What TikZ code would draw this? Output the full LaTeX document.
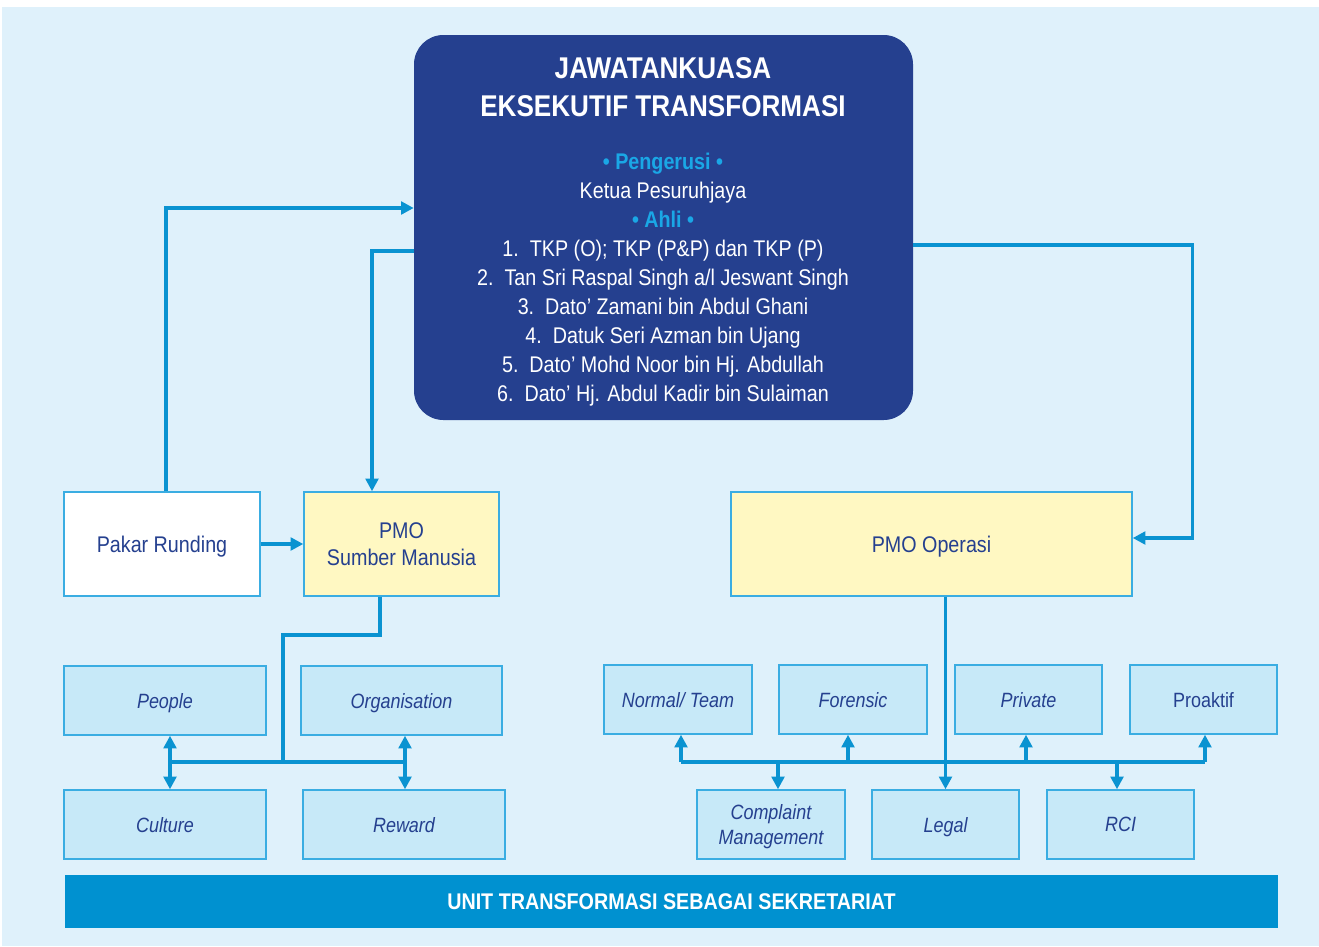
\documentclass[tikz,border=0pt]{standalone}
\usepackage{fontspec}
\setmainfont{Liberation Sans}[FakeStretch=0.87]
\usetikzlibrary{arrows.meta,calc}
\definecolor{bgblue}{HTML}{DFF1FB}
\definecolor{navy}{HTML}{25408F}
\definecolor{cyanlbl}{HTML}{1AA7E6}
\definecolor{linec}{HTML}{0A93D1}
\definecolor{boxline}{HTML}{3AADE2}
\definecolor{lightbox}{HTML}{C7E9F8}
\definecolor{yellowbox}{HTML}{FFF8C2}
\definecolor{barblue}{HTML}{0091D0}
\tikzset{
  bx/.style 2 args={minimum width=#1*0.75pt, minimum height=#2*0.75pt, inner sep=0pt},
  boxbase/.style={draw=boxline, line width=1.1pt, text=navy, font=\fontsize{17}{20}\selectfont, align=center, text depth=0pt},
  whitebox/.style={boxbase, fill=white},
  yelbox/.style={boxbase, fill=yellowbox},
  lbox/.style={boxbase, fill=lightbox, font=\fontsize{15.5}{18.5}\selectfont\itshape},
  lboxup/.style={boxbase, fill=lightbox, font=\fontsize{15.5}{18.5}\selectfont},
  conn/.style={draw=linec, line width=2.4pt},
  arr/.style={conn, -{Triangle[length=9.5pt,width=9.5pt]}},
}
\begin{document}
\begin{tikzpicture}[x=0.75pt,y=-0.75pt]
\useasboundingbox (0,0) rectangle (1319,946);
\fill[bgblue] (2,7) rectangle (1319,946);

% top committee box
\node[bx={499}{385}, fill=navy, rounded corners=22pt] (top) at (663.5,227.5) {};
\node[text=white, font=\fontsize{22.5}{28.5}\selectfont\bfseries, align=center] (title) at (663,87)
  {JAWATANKUASA\\EKSEKUTIF TRANSFORMASI};
\node[text=white, font=\fontsize{17}{21.75}\selectfont, align=center] (members) at (663,280)
  {{\color{cyanlbl}\bfseries\textbullet\ Pengerusi \textbullet}\\
   Ketua Pesuruhjaya\\
   {\color{cyanlbl}\bfseries\textbullet\ Ahli \textbullet}\\
   1.\ \ TKP (O); TKP (P\&P) dan TKP (P)\\
   2.\ \ Tan Sri Raspal Singh a/l Jeswant Singh\\
   3.\ \ Dato’ Zamani bin Abdul Ghani\\
   4.\ \ Datuk Seri Azman bin Ujang\\
   5.\ \ Dato’ Mohd Noor bin Hj. Abdullah\\
   6.\ \ Dato’ Hj. Abdul Kadir bin Sulaiman};

% second level
\node[whitebox, bx={196}{104}] (pakar) at (162,544) {Pakar Runding};
\node[yelbox, bx={195}{104}] (pmosm) at (401.5,544) {PMO\\Sumber Manusia};
\node[yelbox, bx={401}{104}] (pmoop) at (931.5,544) {PMO Operasi};

% left group
\node[lbox, bx={202}{69}] (people) at (165,700.5) {People};
\node[lbox, bx={201}{69}] (org) at (401.5,700.5) {Organisation};
\node[lbox, bx={202}{69}] (culture) at (165,824.5) {Culture};
\node[lbox, bx={202}{69}] (reward) at (404,824.5) {Reward};

% right group
\node[lbox, bx={148}{69}] (normal) at (678,699.5) {Normal/ Team};
\node[lbox, bx={148}{69}] (forensic) at (853,699.5) {Forensic};
\node[lbox, bx={147}{69}] (private) at (1028.5,699.5) {Private};
\node[lboxup, bx={147}{69}] (proaktif) at (1203.5,699.5) {Proaktif};
\node[lbox, bx={148}{69}] (complaint) at (771,824.5) {Complaint\\Management};
\node[lbox, bx={147}{69}] (legal) at (945.5,824.5) {Legal};
\node[lbox, bx={147}{69}] (rci) at (1120.5,824.5) {RCI};

% bottom bar
\node[bx={1213}{53}, fill=barblue, text=white, font=\fontsize{17}{20}\selectfont\bfseries, text depth=0pt] (bar) at (671.5,901.5)
  {UNIT TRANSFORMASI SEBAGAI SEKRETARIAT};

% top connectors
\draw[arr] ($(pakar.north)+(4,0)$) |- ($(top.west)+(0,-19.5)$);
\draw[arr] ($(top.west)+(0,23.5)$) -| ($(pmosm.north)+(-29.5,0)$);
\draw[arr] ($(top.east)+(0,17.5)$) -- ++(279,0) |- ($(pmoop.east)+(0,-6)$);
\draw[arr] (pakar.east) -- (pmosm.west);

% left tree
\coordinate (lk) at (283,635);
\coordinate (lj) at (283,762);
\coordinate (ll) at (170,762);
\coordinate (lr) at (405,762);
\draw[conn] ($(pmosm.south)+(-21.5,0)$) |- (lk) -- (lj);
\draw[conn] (ll) -- (lr);
\draw[arr] (ll) -- (ll |- people.south);
\draw[arr] (ll) -- (ll |- culture.north);
\draw[arr] (lr) -- (lr |- org.south);
\draw[arr] (lr) -- (lr |- reward.north);

% right tree
\coordinate (rl) at (681,762);
\coordinate (rf) at (848,762);
\coordinate (rp) at (1026,762);
\coordinate (rr) at (1205,762);
\coordinate (rc) at (778,762);
\coordinate (rg) at (1117,762);
\draw[conn] (rl) -- (rr);
\draw[arr] (legal.north |- pmoop.south) -- (legal.north);
\draw[arr] (rl) -- (rl |- normal.south);
\draw[arr] (rf) -- (rf |- forensic.south);
\draw[arr] (rp) -- (rp |- private.south);
\draw[arr] (rr) -- (rr |- proaktif.south);
\draw[arr] (rc) -- (rc |- complaint.north);
\draw[arr] (rg) -- (rg |- rci.north);
\end{tikzpicture}
\end{document}
